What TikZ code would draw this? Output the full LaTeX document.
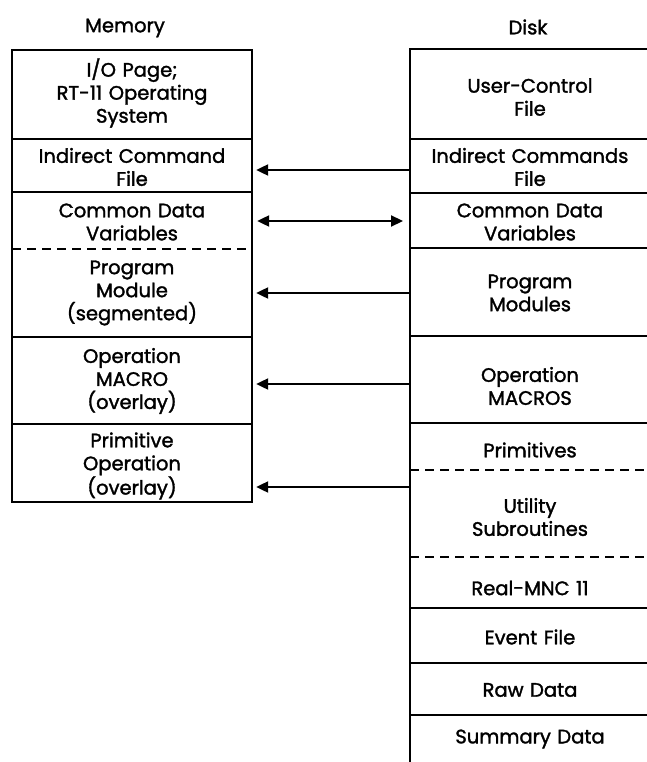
\documentclass[tikz,border=0pt]{standalone}
\usepackage{fontspec}
\setmainfont{Poppins}[BoldFont=Poppins, BoldFeatures={FakeBold=1.6}]
\usetikzlibrary{arrows.meta}
\begin{document}
\begin{tikzpicture}[x=1pt,y=-1pt,
  frame/.style={line width=2.4pt},
  divline/.style={line width=2.2pt},
  dashdiv/.style={line width=2.2pt, dash pattern=on 9pt off 6pt},
  lbl/.style={font=\fontsize{19.5}{23}\selectfont\bfseries, align=center, inner sep=0pt},
  memlbl/.style={lbl, text width=240pt},
  disklbl/.style={lbl, text width=237pt},
  arr/.style={line width=2.2pt, -{Triangle[length=12pt,width=11pt]}},
  darr/.style={line width=2.2pt, {Triangle[length=12pt,width=11pt]}-{Triangle[length=12pt,width=11pt]}}]
\useasboundingbox (0,0) rectangle (647,762);
% memory frame
\draw[frame] (12,50) rectangle (252,502);
\foreach \y in {139,192,337,424} \draw[divline] (12,\y) -- (252,\y);
\draw[dashdiv] (12,249) -- (252,249);
% disk frame
\draw[frame] (650,49) -- (410,49) -- (410,762);
\foreach \y in {139,193,248,336,423,608,663,715} \draw[divline] (410,\y) -- (650,\y);
\draw[dashdiv] (410,470) -- (650,470);
\draw[dashdiv] (410,557) -- (650,557);
% titles
\node[lbl] (memtitle) at (125,28) {Memory};
\node[lbl] (disktitle) at (528,27) {Disk};
% memory
\node[memlbl] (m1) at (132,93) {I/O Page;\\RT-11 Operating\\System};
\node[memlbl] (m2) at (132,167) {Indirect Command\\File};
\node[memlbl] (m3) at (132,222) {Common Data\\Variables};
\node[memlbl] (m4) at (132,293) {Program\\Module\\(segmented)};
\node[memlbl] (m5) at (132,381) {Operation\\MACRO\\(overlay)};
\node[memlbl] (m6) at (132,466) {Primitive\\Operation\\(overlay)};
% disk
\node[disklbl] (d1) at (530,97) {User-Control\\File};
\node[disklbl] (d2) at (530,167) {Indirect Commands\\File};
\node[disklbl] (d3) at (530,222) {Common Data\\Variables};
\node[disklbl] (d4) at (530,293) {Program\\Modules};
\node[disklbl] (d5) at (530,386) {Operation\\MACROS};
\node[disklbl] (d6) at (530,450) {Primitives};
\node[disklbl] (d7) at (530,517) {Utility\\Subroutines};
\node[disklbl] (d8) at (530,588) {Real-MNC 11};
\node[disklbl] (d9) at (530,637) {Event File};
\node[disklbl] (d10) at (530,690) {Raw Data};
\node[disklbl] (d11) at (530,739) {Summary Data};
% arrows
\coordinate (a1) at (410,170);
\coordinate (a2) at (410,221);
\coordinate (a3) at (410,293);
\coordinate (a4) at (410,384);
\coordinate (a5) at (410,487);
\draw[arr, shorten >=4pt] (a1) -- (m2.east |- a1);
\draw[darr, shorten <=5pt, shorten >=7pt] (m3.east |- a2) -- (a2);
\draw[arr, shorten >=4pt] (a3) -- (m4.east |- a3);
\draw[arr, shorten >=4pt] (a4) -- (m5.east |- a4);
\draw[arr, shorten >=4pt] (a5) -- (m6.east |- a5);
\end{tikzpicture}
\end{document}
